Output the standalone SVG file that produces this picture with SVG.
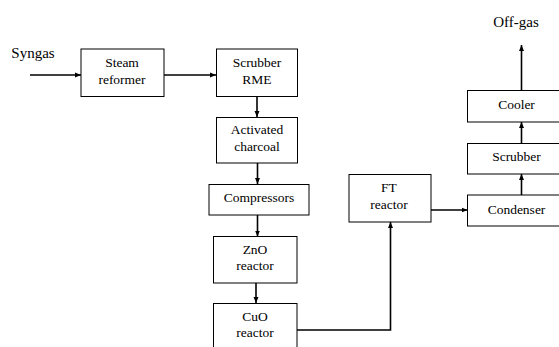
<svg xmlns="http://www.w3.org/2000/svg" width="559" height="347" viewBox="0 0 559 347" font-family="Liberation Serif, Times New Roman, serif">
<style>
.box{fill:#fff;stroke:#000;stroke-width:1}
.t{font-size:13.5px;fill:#000;text-anchor:middle}
.lbl{font-size:15px;fill:#000;text-anchor:middle}
.c{fill:none;stroke:#000;stroke-width:1.6}
</style>
<defs>
<marker id="ah" viewBox="0 0 6 6" refX="6" refY="3" markerWidth="6" markerHeight="6" markerUnits="userSpaceOnUse" orient="auto">
<path d="M0,0.5 L6,3 L0,5.5 z" fill="#000"/>
</marker>
</defs>
<rect width="559" height="347" fill="#fff"/>
<g id="connectors">
<line class="c" x1="30" y1="75" x2="81" y2="75" marker-end="url(#ah)"/>
<line class="c" x1="164" y1="75" x2="216" y2="75" marker-end="url(#ah)"/>
<line class="c" x1="257" y1="96.5" x2="257" y2="117" marker-end="url(#ah)"/>
<line class="c" x1="257.5" y1="163" x2="257.5" y2="184" marker-end="url(#ah)"/>
<line class="c" x1="257.5" y1="215" x2="257.5" y2="236.5" marker-end="url(#ah)"/>
<line class="c" x1="256" y1="283" x2="256" y2="303" marker-end="url(#ah)"/>
<polyline class="c" points="297,330 390.5,330 390.5,222" marker-end="url(#ah)"/>
<line class="c" x1="431" y1="210" x2="467.5" y2="210" marker-end="url(#ah)"/>
<line class="c" x1="521.5" y1="195" x2="521.5" y2="174" marker-end="url(#ah)"/>
<line class="c" x1="521.5" y1="143" x2="521.5" y2="122" marker-end="url(#ah)"/>
<line class="c" x1="521.5" y1="90.5" x2="521.5" y2="45" marker-end="url(#ah)"/>
</g>
<g id="syngas"><text class="lbl" x="33" y="58">Syngas</text></g>
<g id="offgas"><text class="lbl" x="516" y="27">Off-gas</text></g>
<g id="steam-reformer">
<rect class="box" x="81" y="49" width="83" height="47.5"/>
<text class="t" x="122" y="67">Steam</text>
<text class="t" x="122" y="83.5">reformer</text>
</g>
<g id="scrubber-rme">
<rect class="box" x="216.5" y="49" width="81" height="47.5"/>
<text class="t" x="257" y="67">Scrubber</text>
<text class="t" x="257" y="83.5">RME</text>
</g>
<g id="activated-charcoal">
<rect class="box" x="216.5" y="117.5" width="81" height="45.5"/>
<text class="t" x="257" y="134">Activated</text>
<text class="t" x="257" y="150.5">charcoal</text>
</g>
<g id="compressors">
<rect class="box" x="209" y="184.5" width="100" height="30.5"/>
<text class="t" x="259" y="202">Compressors</text>
</g>
<g id="zno-reactor">
<rect class="box" x="213.5" y="236.5" width="83.5" height="46.5"/>
<text class="t" x="255" y="253.5">ZnO</text>
<text class="t" x="255" y="270">reactor</text>
</g>
<g id="cuo-reactor">
<rect class="box" x="213.5" y="303.5" width="83.5" height="50"/>
<text class="t" x="255" y="320.5">CuO</text>
<text class="t" x="255" y="337">reactor</text>
</g>
<g id="ft-reactor">
<rect class="box" x="349" y="174.5" width="82" height="47.5"/>
<text class="t" x="389" y="191.5">FT</text>
<text class="t" x="389" y="208.5">reactor</text>
</g>
<g id="condenser">
<rect class="box" x="467.5" y="195" width="100" height="31"/>
<text class="t" x="516.5" y="213.5">Condenser</text>
</g>
<g id="scrubber">
<rect class="box" x="467.5" y="143.5" width="100" height="30.5"/>
<text class="t" x="516.5" y="160.5">Scrubber</text>
</g>
<g id="cooler">
<rect class="box" x="467.5" y="90.5" width="100" height="31.5"/>
<text class="t" x="516.5" y="108.5">Cooler</text>
</g>
</svg>
